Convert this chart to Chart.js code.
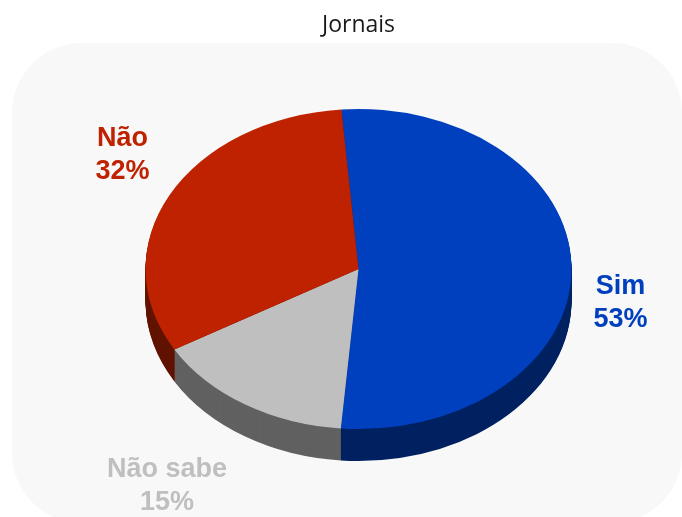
<!DOCTYPE html>
<html>
<head>
<meta charset="utf-8">
<style>html,body{margin:0;padding:0;background:#fff}canvas{display:block}</style>
<script src="https://cdn.jsdelivr.net/npm/chart.js@4"></script>
</head>
<body>
<canvas id="c" width="682" height="517"></canvas>
<script>
const categories = ["Sim", "Não sabe", "Não"];
const shares = [52.6, 15.3, 32.1];
const topColors = ["#0040BF", "#BFBFBF", "#BF2200"];
const sideColors = ["#002060", "#606060", "#601100"];
const chartTitle = "Jornais";
const labelAnchors = [[620.5, 303], [167, 486], [122.5, 155]];

const tilt = 160 / 213;
const depth = 32;

const stage = {
  id: "stage",
  beforeDraw(chart) {
    const ctx = chart.ctx;
    ctx.save();
    ctx.fillStyle = "#F8F8F8";
    ctx.beginPath();
    ctx.roundRect(12, 43, 670, 480, 70);
    ctx.fill();
    ctx.restore();
  },
  beforeDatasetsDraw(chart) {
    const ctx = chart.ctx;
    const arcs = chart.getDatasetMeta(0).data;
    const cx = arcs[0].x, cy = arcs[0].y;
    const squash = (c) => {
      c.translate(cx, cy);
      c.scale(1, tilt);
      c.translate(-cx, -cy);
    };
    const side = document.createElement("canvas");
    side.width = chart.width;
    side.height = chart.height;
    const sctx = side.getContext("2d");
    sctx.globalCompositeOperation = "destination-over";
    for (let off = 1; off <= depth; off++) {
      sctx.save();
      sctx.translate(0, off);
      squash(sctx);
      arcs.forEach((arc, i) => {
        const saved = arc.options;
        arc.options = Object.assign({}, saved, {backgroundColor: sideColors[i], borderWidth: 0});
        arc.draw(sctx);
        arc.options = saved;
      });
      sctx.restore();
    }
    ctx.drawImage(side, 0, 0);
    ctx.save();
    squash(ctx);
  },
  afterDatasetsDraw(chart) {
    const ctx = chart.ctx;
    ctx.restore();
    ctx.save();
    ctx.font = "bold 27px 'Liberation Sans'";
    ctx.textAlign = "center";
    ctx.textBaseline = "middle";
    categories.forEach((name, i) => {
      const [x, y] = labelAnchors[i];
      ctx.fillStyle = topColors[i];
      ctx.fillText(name, x, y - 16.5);
      ctx.fillText(Math.round(shares[i]) + "%", x, y + 16.5);
    });
    ctx.restore();
  }
};

new Chart(document.getElementById("c"), {
  type: "pie",
  data: {
    labels: categories,
    datasets: [{data: shares, backgroundColor: topColors, borderWidth: 0, hoverOffset: 0}]
  },
  options: {
    responsive: false,
    animation: false,
    rotation: -4.6,
    events: [],
    layout: {padding: {left: 145, right: 110, top: 0, bottom: 35}},
    plugins: {
      legend: {display: false},
      tooltip: {enabled: false},
      title: {
        display: true,
        text: chartTitle,
        color: "#1a1a1a",
        font: {family: "'Open Sans'", size: 23, weight: "normal", lineHeight: 1.2},
        padding: {top: 12, bottom: 16.4}
      }
    }
  },
  plugins: [stage]
});
</script>
</body>
</html>
